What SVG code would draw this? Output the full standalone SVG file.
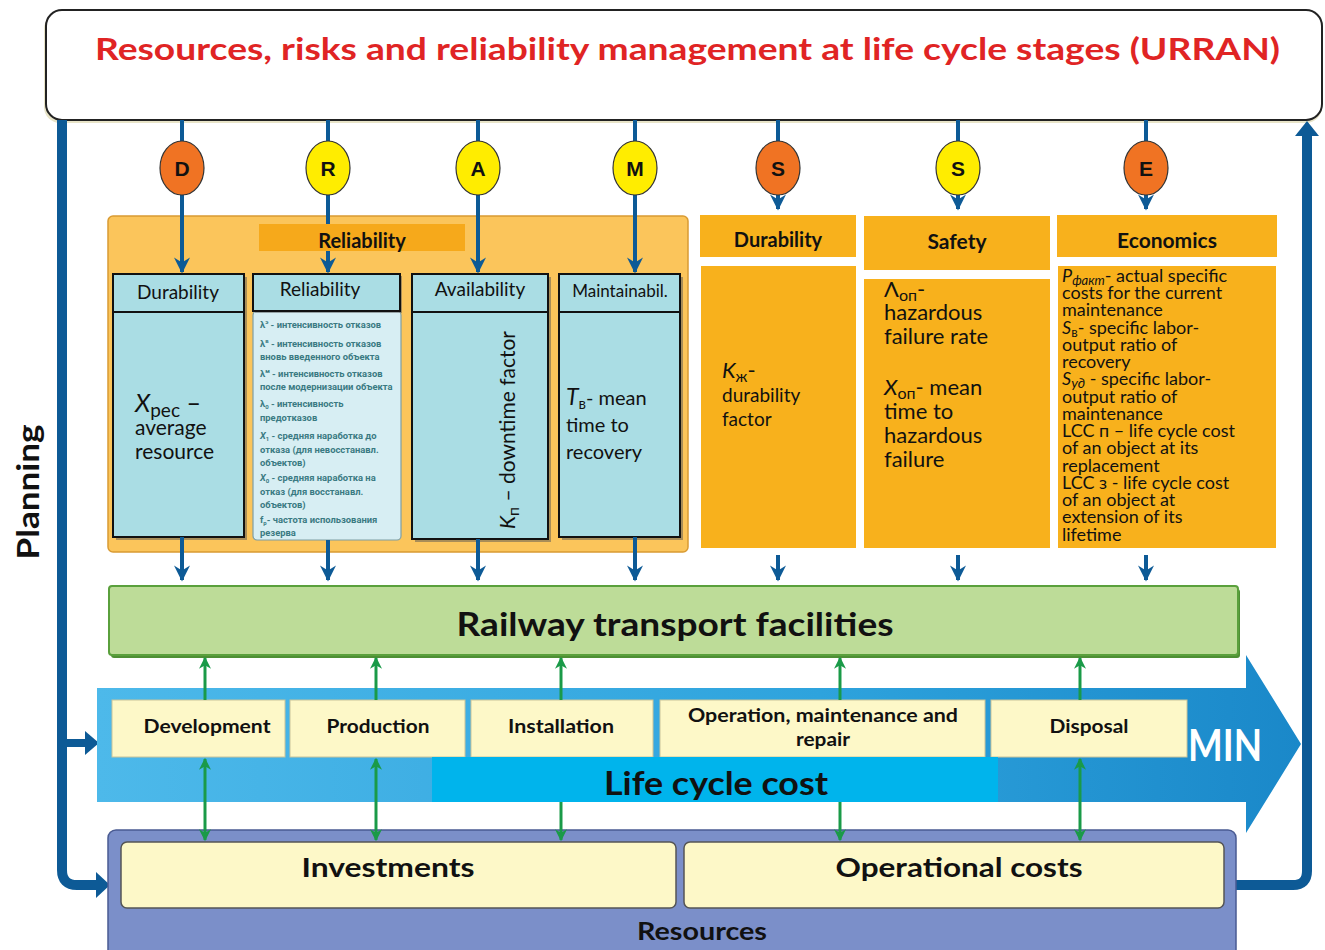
<svg xmlns="http://www.w3.org/2000/svg" width="1325" height="950" viewBox="0 0 1325 950">
<style>
text{font-family:Lato,"Open Sans","Noto Sans",sans-serif;fill:#111}
.b{font-weight:bold}
.it{font-style:italic}
.hd{font-size:19px}
.teal{fill:#aadde4;stroke:#111;stroke-width:2}
.ru{font-family:Roboto,"Noto Sans",sans-serif;font-size:9.4px;font-weight:bold;fill:#3a7a82}
.org{fill:#f8b11c}
.stage{fill:#fdf8c8;stroke:#c9c49a;stroke-width:1}
.bl{stroke:#0d5a96;stroke-width:4;fill:none}
.gr{stroke:#1a9a48;stroke-width:3;fill:none}
.circ{stroke:#333;stroke-width:1.2}
.ltr{font-family:"Liberation Sans",Arial,sans-serif;font-weight:bold;font-size:21px;text-anchor:middle}
</style>
<defs>
<marker id="ab" viewBox="0 0 10 10" refX="9" refY="5" markerWidth="18" markerHeight="16" markerUnits="userSpaceOnUse" orient="auto">
<path d="M0,0 L10,5 L0,10 L3,5 z" fill="#0d5a96"/>
</marker>
<marker id="ag" viewBox="0 0 10 10" refX="9" refY="5" markerWidth="14" markerHeight="12" markerUnits="userSpaceOnUse" orient="auto-start-reverse">
<path d="M0,0 L10,5 L0,10 L3,5 z" fill="#1a9a48"/>
</marker>
<linearGradient id="lg" x1="0" y1="0" x2="1" y2="0">
<stop offset="0" stop-color="#4db9ea"/>
<stop offset="0.6" stop-color="#2ea3dd"/>
<stop offset="1" stop-color="#1a88c9"/>
</linearGradient>
</defs>
<rect width="1325" height="950" fill="#fff"/>

<g id="title">
<rect x="44" y="13" width="1278" height="110" rx="16" fill="#e8e4c8"/>
<rect x="46" y="10" width="1276" height="110" rx="16" fill="#fff" stroke="#222" stroke-width="2"/>
<text x="95" y="60" class="b" font-size="31" fill="#e02424" style="fill:#e02424" textLength="1185" lengthAdjust="spacingAndGlyphs">Resources, risks and reliability management at life cycle stages (URRAN)</text>
</g>

<g id="planning">
<path d="M62,120 V870 Q62,885 77,885 H98" stroke="#0d5a96" stroke-width="10" fill="none"/>
<polygon points="96,872 110,885 96,898" fill="#0d5a96"/>
<path d="M62,743 H88" stroke="#0d5a96" stroke-width="8" fill="none"/>
<polygon points="85,731 99,743 85,755" fill="#0d5a96"/>
<path d="M1236,885 H1293 Q1307,885 1307,871 V134" stroke="#0d5a96" stroke-width="10" fill="none"/>
<polygon points="1295,136 1307,121 1319,136" fill="#0d5a96"/>
<text transform="translate(39,492) rotate(-90)" text-anchor="middle" class="b" font-size="30" textLength="135" lengthAdjust="spacingAndGlyphs">Planning</text>
</g>

<g id="reliability-panel">
<rect x="108" y="216" width="580" height="336" rx="5" fill="#fbc55b" stroke="#d99b33" stroke-width="1.5"/>
</g>

<g id="col-durability">
<rect x="116" y="277" width="131" height="263" fill="#555" opacity="0.5"/>
<rect x="113" y="274" width="131" height="38" class="teal"/>
<rect x="113" y="312" width="131" height="225" class="teal"/>
<text x="178" y="299" text-anchor="middle" class="hd">Durability</text>
<text x="135" y="412" font-size="25"><tspan class="it">X</tspan><tspan font-size="19" dy="5">рес</tspan><tspan dy="-5"> –</tspan></text>
<text x="135" y="435" font-size="21">average</text>
<text x="135" y="459" font-size="21">resource</text>
</g>

<g id="col-reliability">
<rect x="253" y="311" width="148" height="229" rx="4" fill="#d7eef3" stroke="#7f9ea4" stroke-width="1.2"/>
<rect x="255" y="276" width="147" height="37" fill="#555" opacity="0.5"/>
<rect x="253" y="274" width="147" height="37" class="teal"/>
<text x="320" y="296" text-anchor="middle" class="hd">Reliability</text>
<text class="ru" x="260" y="328">λ<tspan font-size="6" dy="-4">э</tspan><tspan dy="4"> - интенсивность отказов</tspan></text>
<text class="ru" x="260" y="347">λ<tspan font-size="6" dy="-4">в</tspan><tspan dy="4"> - интенсивность отказов</tspan></text>
<text class="ru" x="260" y="360">вновь введенного объекта</text>
<text class="ru" x="260" y="377">λ<tspan font-size="6" dy="-4">м</tspan><tspan dy="4"> - интенсивность отказов</tspan></text>
<text class="ru" x="260" y="390">после модернизации объекта</text>
<text class="ru" x="260" y="407">λ<tspan font-size="6" dy="2">0</tspan><tspan dy="-2"> - интенсивность</tspan></text>
<text class="ru" x="260" y="421">предотказов</text>
<text class="ru" x="260" y="439"><tspan class="it">X</tspan><tspan font-size="6" dy="2">1</tspan><tspan dy="-2"> - средняя наработка до</tspan></text>
<text class="ru" x="260" y="453">отказа (для невосстанавл.</text>
<text class="ru" x="260" y="466">объектов)</text>
<text class="ru" x="260" y="481"><tspan class="it">X</tspan><tspan font-size="6" dy="2">0</tspan><tspan dy="-2"> - средняя наработка на</tspan></text>
<text class="ru" x="260" y="495">отказ (для восстанавл.</text>
<text class="ru" x="260" y="508">объектов)</text>
<text class="ru" x="260" y="523">f<tspan font-size="6" dy="2">р</tspan><tspan dy="-2">- частота использования</tspan></text>
<text class="ru" x="260" y="536">резерва</text>
</g>

<g id="col-availability">
<rect x="415" y="277" width="136" height="265" fill="#555" opacity="0.5"/>
<rect x="412" y="274" width="136" height="38" class="teal"/>
<rect x="412" y="312" width="136" height="227" class="teal"/>
<text x="480" y="296" text-anchor="middle" class="hd">Availability</text>
<text transform="translate(515,430) rotate(-90)" text-anchor="middle" font-size="21"><tspan class="it">K</tspan><tspan font-size="16" dy="4">п</tspan><tspan dy="-4"> – downtime factor</tspan></text>
</g>

<g id="col-maintainability">
<rect x="562" y="277" width="121" height="263" fill="#555" opacity="0.5"/>
<rect x="559" y="274" width="121" height="38" class="teal"/>
<rect x="559" y="312" width="121" height="225" class="teal"/>
<text x="620" y="297" text-anchor="middle" font-size="17">Maintainabil.</text>
<text x="566" y="405" font-size="20"><tspan class="it" font-size="23">T</tspan><tspan font-size="15" dy="4">в</tspan><tspan dy="-4">- mean</tspan></text>
<text x="566" y="432" font-size="20">time to</text>
<text x="566" y="459" font-size="20">recovery</text>
</g>

<g id="reliability-band">
<rect x="259" y="224" width="206" height="27" fill="#f6a91b"/>
<text x="362" y="248" text-anchor="middle" class="b" font-size="20">Reliability</text>
</g>

<g id="durability-right">
<rect x="700" y="215" width="156" height="42" class="org"/>
<text x="778" y="247" text-anchor="middle" class="b" font-size="20">Durability</text>
<rect x="701" y="266" width="155" height="282" class="org"/>
<text x="722" y="378" font-size="22"><tspan class="it">K</tspan><tspan font-size="15" dy="4">ж</tspan><tspan dy="-4">-</tspan></text>
<text x="722" y="402" font-size="19">durability</text>
<text x="722" y="426" font-size="19">factor</text>
</g>

<g id="safety">
<rect x="864" y="216" width="186" height="54" class="org"/>
<text x="957" y="249" text-anchor="middle" class="b" font-size="21">Safety</text>
<rect x="864" y="279" width="186" height="269" class="org"/>
<text x="884" y="297" font-size="22">Λ<tspan font-size="16" dy="4">оп</tspan><tspan dy="-4">-</tspan></text>
<text x="884" y="320" font-size="22">hazardous</text>
<text x="884" y="344" font-size="22">failure rate</text>
<text x="884" y="395" font-size="22"><tspan class="it">X</tspan><tspan font-size="16" dy="4">оп</tspan><tspan dy="-4">- mean</tspan></text>
<text x="884" y="419" font-size="22">time to</text>
<text x="884" y="443" font-size="22">hazardous</text>
<text x="884" y="467" font-size="22">failure</text>
</g>

<g id="economics">
<rect x="1057" y="215" width="220" height="42" class="org"/>
<text x="1167" y="248" text-anchor="middle" class="b" font-size="21">Economics</text>
<rect x="1058" y="266" width="218" height="282" class="org"/>
<g font-size="18">
<text x="1062" y="282"><tspan class="it">P</tspan><tspan class="it" font-size="13" dy="3">факт</tspan><tspan dy="-3">- actual specific</tspan></text>
<text x="1062" y="299">costs for the current</text>
<text x="1062" y="316">maintenance</text>
<text x="1062" y="334"><tspan class="it">S</tspan><tspan font-size="13" dy="3">в</tspan><tspan dy="-3">- specific labor-</tspan></text>
<text x="1062" y="351">output ratio of</text>
<text x="1062" y="368">recovery</text>
<text x="1062" y="385"><tspan class="it">S</tspan><tspan class="it" font-size="14" dy="3">уд</tspan><tspan dy="-3"> - specific labor-</tspan></text>
<text x="1062" y="403">output ratio of</text>
<text x="1062" y="420">maintenance</text>
<text x="1062" y="437">LCC п – life cycle cost</text>
<text x="1062" y="454">of an object at its</text>
<text x="1062" y="472">replacement</text>
<text x="1062" y="489">LCC з - life cycle cost</text>
<text x="1062" y="506">of an object at</text>
<text x="1062" y="523">extension of its</text>
<text x="1062" y="541">lifetime</text>
</g>
</g>

<g id="railway">
<rect x="111" y="589" width="1129" height="69" rx="3" fill="#4e8f34"/>
<rect x="109" y="586" width="1129" height="69" rx="3" fill="#bddc98" stroke="#5aa03c" stroke-width="2"/>
<text x="675" y="636" text-anchor="middle" class="b" font-size="32" textLength="437" lengthAdjust="spacingAndGlyphs">Railway transport facilities</text>
</g>

<g id="lifecycle-arrow">
<polygon points="97,688 1246,688 1246,655 1301,744 1246,833 1246,802 97,802" fill="url(#lg)"/>
<text x="1188" y="761" class="b" font-size="44" fill="#fff" style="fill:#fff" textLength="74" lengthAdjust="spacingAndGlyphs">MIN</text>
</g>

<g id="stage-development">
<rect x="112" y="700" width="173" height="57" class="stage"/>
<text x="207" y="733" text-anchor="middle" class="b" font-size="18" textLength="127" lengthAdjust="spacingAndGlyphs">Development</text>
</g>
<g id="stage-production">
<rect x="290" y="700" width="175" height="57" class="stage"/>
<text x="378" y="733" text-anchor="middle" class="b" font-size="18" textLength="103" lengthAdjust="spacingAndGlyphs">Production</text>
</g>
<g id="stage-installation">
<rect x="471" y="700" width="182" height="57" class="stage"/>
<text x="561" y="733" text-anchor="middle" class="b" font-size="18" textLength="106" lengthAdjust="spacingAndGlyphs">Installation</text>
</g>
<g id="stage-operation">
<rect x="660" y="700" width="325" height="57" class="stage"/>
<text x="823" y="722" text-anchor="middle" class="b" font-size="18" textLength="270" lengthAdjust="spacingAndGlyphs">Operation, maintenance and</text>
<text x="823" y="746" text-anchor="middle" class="b" font-size="18" textLength="54" lengthAdjust="spacingAndGlyphs">repair</text>
</g>
<g id="stage-disposal">
<rect x="991" y="700" width="196" height="57" class="stage"/>
<text x="1089" y="733" text-anchor="middle" class="b" font-size="18" textLength="79" lengthAdjust="spacingAndGlyphs">Disposal</text>
</g>

<g id="resources">
<rect x="108" y="830" width="1128" height="135" rx="8" fill="#7b8fc9" stroke="#4a5b92" stroke-width="1.5"/>
<text x="702" y="940" text-anchor="middle" class="b" font-size="24" textLength="130" lengthAdjust="spacingAndGlyphs">Resources</text>
</g>
<g id="investments">
<rect x="121" y="842" width="555" height="66" rx="6" fill="#fdf8c8" stroke="#555" stroke-width="1.5"/>
<text x="388" y="877" text-anchor="middle" class="b" font-size="27" textLength="173" lengthAdjust="spacingAndGlyphs">Investments</text>
</g>
<g id="operational-costs">
<rect x="684" y="842" width="540" height="66" rx="6" fill="#fdf8c8" stroke="#555" stroke-width="1.5"/>
<text x="959" y="877" text-anchor="middle" class="b" font-size="27" textLength="247" lengthAdjust="spacingAndGlyphs">Operational costs</text>
</g>

<g id="connectors">
<path class="bl" d="M182,120 V141 M328,120 V141 M478,120 V141 M635,120 V141 M778,120 V141 M958,120 V141 M1146,120 V141"/>
<path class="bl" d="M182,195 V272" marker-end="url(#ab)"/>
<path class="bl" d="M328,251 V272" marker-end="url(#ab)"/>
<path class="bl" d="M328,195 V224"/>
<path class="bl" d="M478,195 V272" marker-end="url(#ab)"/>
<path class="bl" d="M635,195 V272" marker-end="url(#ab)"/>
<path class="bl" d="M778,195 V209" marker-end="url(#ab)"/>
<path class="bl" d="M958,195 V209" marker-end="url(#ab)"/>
<path class="bl" d="M1146,195 V209" marker-end="url(#ab)"/>
<path class="bl" d="M182,537 V580" marker-end="url(#ab)"/>
<path class="bl" d="M328,540 V580" marker-end="url(#ab)"/>
<path class="bl" d="M478,539 V580" marker-end="url(#ab)"/>
<path class="bl" d="M635,537 V580" marker-end="url(#ab)"/>
<path class="bl" d="M778,555 V580" marker-end="url(#ab)"/>
<path class="bl" d="M958,555 V580" marker-end="url(#ab)"/>
<path class="bl" d="M1146,555 V580" marker-end="url(#ab)"/>
<path class="gr" d="M205,700 V658" marker-end="url(#ag)"/>
<path class="gr" d="M376,700 V658" marker-end="url(#ag)"/>
<path class="gr" d="M561,700 V658" marker-end="url(#ag)"/>
<path class="gr" d="M840,700 V658" marker-end="url(#ag)"/>
<path class="gr" d="M1080,700 V658" marker-end="url(#ag)"/>
<path class="gr" d="M205,759 V840" marker-start="url(#ag)" marker-end="url(#ag)"/>
<path class="gr" d="M376,759 V840" marker-start="url(#ag)" marker-end="url(#ag)"/>
<path class="gr" d="M561,759 V840" marker-start="url(#ag)" marker-end="url(#ag)"/>
<path class="gr" d="M840,759 V840" marker-start="url(#ag)" marker-end="url(#ag)"/>
<path class="gr" d="M1080,759 V840" marker-start="url(#ag)" marker-end="url(#ag)"/>
</g>

<g id="lcc">
<rect x="432" y="757" width="566" height="45" fill="#00b4ec"/>
<text x="716" y="795" text-anchor="middle" class="b" font-size="32" textLength="224" lengthAdjust="spacingAndGlyphs">Life cycle cost</text>
</g>

<g id="circles">
<ellipse cx="182" cy="168" rx="22" ry="27" fill="#f07323" class="circ"/>
<text x="182" y="176" class="ltr">D</text>
<ellipse cx="328" cy="168" rx="22" ry="27" fill="#ffed00" class="circ"/>
<text x="328" y="176" class="ltr">R</text>
<ellipse cx="478" cy="168" rx="22" ry="27" fill="#ffed00" class="circ"/>
<text x="478" y="176" class="ltr">A</text>
<ellipse cx="635" cy="168" rx="22" ry="27" fill="#ffed00" class="circ"/>
<text x="635" y="176" class="ltr">M</text>
<ellipse cx="778" cy="168" rx="22" ry="27" fill="#f07323" class="circ"/>
<text x="778" y="176" class="ltr">S</text>
<ellipse cx="958" cy="168" rx="22" ry="27" fill="#ffed00" class="circ"/>
<text x="958" y="176" class="ltr">S</text>
<ellipse cx="1146" cy="168" rx="22" ry="27" fill="#f07323" class="circ"/>
<text x="1146" y="176" class="ltr">E</text>
</g>
</svg>
